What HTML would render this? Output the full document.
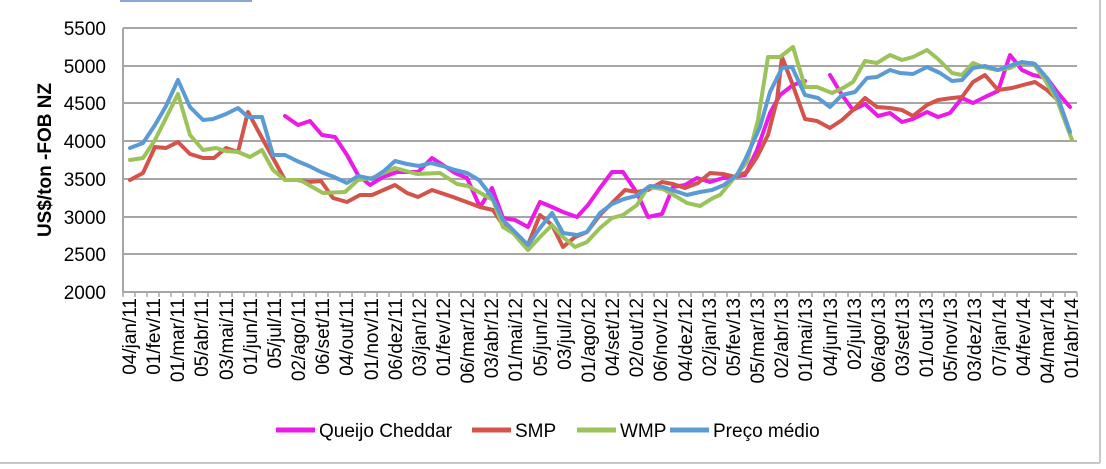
<!DOCTYPE html>
<html><head><meta charset="utf-8"><style>
html,body{margin:0;padding:0;background:#fff;}
svg{display:block;font-family:"Liberation Sans",sans-serif;}
</style></head><body>
<svg width="1106" height="469" viewBox="0 0 1106 469" xmlns="http://www.w3.org/2000/svg">
<rect x="0" y="0" width="1106" height="469" fill="#fff"/>
<line x1="1100" y1="0" x2="1100" y2="463" stroke="#c8c8c8" stroke-width="2"/>
<line x1="0" y1="463" x2="1100" y2="463" stroke="#c8c8c8" stroke-width="2"/>
<line x1="120" y1="1" x2="252" y2="1" stroke="#8aa6d8" stroke-width="2"/>
<g stroke="#a6a6a6" stroke-width="2">
<line x1="123" y1="28" x2="1077" y2="28"/>
<line x1="123" y1="66" x2="1077" y2="66"/>
<line x1="123" y1="103" x2="1077" y2="103"/>
<line x1="123" y1="141" x2="1077" y2="141"/>
<line x1="123" y1="179" x2="1077" y2="179"/>
<line x1="123" y1="217" x2="1077" y2="217"/>
<line x1="123" y1="254" x2="1077" y2="254"/>
<line x1="123" y1="292" x2="1077" y2="292"/>
<line x1="123" y1="28" x2="123" y2="292"/>
</g>
<g stroke="#a6a6a6" stroke-width="1.5">
<path d="M123 292v5M135 292v5M147 292v5M159 292v5M171 292v5M183 292v5M195 292v5M208 292v5M220 292v5M232 292v5M244 292v5M256 292v5M268 292v5M280 292v5M292 292v5M304 292v5M316 292v5M328 292v5M340 292v5M352 292v5M365 292v5M377 292v5M389 292v5M401 292v5M413 292v5M425 292v5M437 292v5M449 292v5M461 292v5M473 292v5M485 292v5M497 292v5M510 292v5M522 292v5M534 292v5M546 292v5M558 292v5M570 292v5M582 292v5M594 292v5M606 292v5M618 292v5M630 292v5M642 292v5M654 292v5M667 292v5M679 292v5M691 292v5M703 292v5M715 292v5M727 292v5M739 292v5M751 292v5M763 292v5M775 292v5M787 292v5M799 292v5M812 292v5M824 292v5M836 292v5M848 292v5M860 292v5M872 292v5M884 292v5M896 292v5M908 292v5M920 292v5M932 292v5M944 292v5M956 292v5M969 292v5M981 292v5M993 292v5M1005 292v5M1017 292v5M1029 292v5M1041 292v5M1053 292v5M1065 292v5M1077 292v5"/>
</g>
<g font-size="19" fill="#000" text-anchor="end">
<text x="106" y="35">5500</text><text x="106" y="73">5000</text><text x="106" y="110">4500</text>
<text x="106" y="148">4000</text><text x="106" y="186">3500</text><text x="106" y="224">3000</text>
<text x="106" y="261">2500</text><text x="106" y="299">2000</text>
</g>
<text transform="translate(51,160) rotate(-90)" font-size="19" font-weight="bold" text-anchor="middle">US$/ton -FOB NZ</text>
<g fill="none" stroke-width="4" stroke-linejoin="round" stroke-linecap="round">
<polyline stroke="#ea1be6" points="285,116 298,125 310,121 322,135 335,137 347,155 358,175 370,185 383,177 397,172 418,172 432,158 443,165 455,173 467,178 480,207 492,188 503,218 515,220 528,227 540,202 552,207 563,212 577,217 588,205 600,188 612,172 623,172 637,193 648,217 662,214 673,187 685,185 697,178 710,182 723,178 733,177 745,175 757,150 770,113 780,95 793,85 805,81"/>
<polyline stroke="#ea1be6" points="830,75 842,95 853,110 865,104 878,116 890,113 902,122 913,119 927,112 938,117 950,113 962,98 973,103 985,97 998,91 1010,55 1022,70 1033,75 1047,78 1058,93 1070,107"/>
<polyline stroke="#d4534b" points="130,180 143,173 155,147 166,148 178,142 190,154 203,158 214,158 226,148 238,152 248,112 262,138 273,158 285,180 297,180 309,182 321,181 333,198 347,202 360,195 372,195 395,185 407,193 418,197 432,190 453,197 480,207 493,210 503,225 513,232 527,247 540,215 552,225 563,247 575,237 587,232 600,215 612,203 625,190 637,192 648,190 662,182 673,184 685,188 698,183 710,173 723,174 735,177 747,172 757,157 768,135 777,100 782,57 792,83 805,119 817,121 830,128 842,120 853,110 865,98 877,107 890,108 902,110 913,116 927,105 938,100 952,98 962,97 973,82 985,75 998,90 1012,88 1023,85 1035,82 1047,90 1060,102"/>
<polyline stroke="#9bc35a" points="130,160 143,158 155,140 166,118 178,94 190,135 203,150 216,148 226,151 238,152 250,157 262,150 273,170 285,180 300,180 323,193 345,192 358,180 372,178 395,168 417,174 440,173 457,184 468,186 493,200 503,227 513,233 528,250 540,237 552,225 563,237 575,247 587,242 600,228 612,218 623,215 637,205 648,187 663,189 677,197 687,203 700,206 713,198 720,195 730,183 747,162 758,120 768,57 780,57 793,47 805,87 817,87 832,93 843,88 853,82 865,61 877,63 890,55 902,60 913,57 927,50 938,59 952,73 962,75 973,63 983,67 997,70 1010,68 1020,63 1033,63 1045,80 1057,100 1072,140"/>
<polyline stroke="#5b9bd5" points="130,148 143,143 155,125 166,106 178,80 190,107 203,120 213,119 226,114 238,108 248,117 262,117 273,155 285,155 297,161 309,166 321,172 334,177 347,183 358,176 372,179 384,171 395,161 407,164 419,166 431,163 443,166 455,170 467,173 479,180 492,197 503,220 515,232 528,245 540,228 552,213 563,233 577,235 587,232 600,213 612,204 624,199 636,196 650,186 663,187 675,191 687,195 700,192 712,190 724,185 737,175 745,160 760,127 770,92 782,68 792,67 805,95 818,98 830,107 842,95 855,92 867,78 877,77 890,70 900,73 913,74 927,67 940,73 952,81 962,80 973,68 985,66 998,70 1012,65 1022,62 1035,64 1047,78 1058,98 1070,132"/>
</g>
<g stroke-width="5">
<line x1="276" y1="430" x2="315" y2="430" stroke="#ea1be6"/>
<line x1="472" y1="430" x2="511" y2="430" stroke="#d4534b"/>
<line x1="577" y1="430" x2="616" y2="430" stroke="#9bc35a"/>
<line x1="670" y1="430" x2="709" y2="430" stroke="#5b9bd5"/>
</g>
<g font-size="19" fill="#000">
<text x="319" y="437">Queijo Cheddar</text>
<text x="515" y="437">SMP</text>
<text x="620" y="437">WMP</text>
<text x="713" y="437">Preço médio</text>
</g>
<g font-size="19" fill="#000" text-anchor="end">
<text transform="translate(136,298) rotate(-90)">04/jan/11</text>
<text transform="translate(160,298) rotate(-90)">01/fev/11</text>
<text transform="translate(184,298) rotate(-90)">01/mar/11</text>
<text transform="translate(208,298) rotate(-90)">05/abr/11</text>
<text transform="translate(233,298) rotate(-90)">03/mai/11</text>
<text transform="translate(257,298) rotate(-90)">01/jun/11</text>
<text transform="translate(281,298) rotate(-90)">05/jul/11</text>
<text transform="translate(305,298) rotate(-90)">02/ago/11</text>
<text transform="translate(329,298) rotate(-90)">06/set/11</text>
<text transform="translate(353,298) rotate(-90)">04/out/11</text>
<text transform="translate(378,298) rotate(-90)">01/nov/11</text>
<text transform="translate(402,298) rotate(-90)">06/dez/11</text>
<text transform="translate(426,298) rotate(-90)">03/jan/12</text>
<text transform="translate(450,298) rotate(-90)">01/fev/12</text>
<text transform="translate(474,298) rotate(-90)">06/mar/12</text>
<text transform="translate(498,298) rotate(-90)">03/abr/12</text>
<text transform="translate(522,298) rotate(-90)">01/mai/12</text>
<text transform="translate(547,298) rotate(-90)">05/jun/12</text>
<text transform="translate(571,298) rotate(-90)">03/jul/12</text>
<text transform="translate(595,298) rotate(-90)">01/ago/12</text>
<text transform="translate(619,298) rotate(-90)">04/set/12</text>
<text transform="translate(643,298) rotate(-90)">02/out/12</text>
<text transform="translate(667,298) rotate(-90)">06/nov/12</text>
<text transform="translate(692,298) rotate(-90)">04/dez/12</text>
<text transform="translate(716,298) rotate(-90)">02/jan/13</text>
<text transform="translate(740,298) rotate(-90)">05/fev/13</text>
<text transform="translate(764,298) rotate(-90)">05/mar/13</text>
<text transform="translate(788,298) rotate(-90)">02/abr/13</text>
<text transform="translate(812,298) rotate(-90)">01/mai/13</text>
<text transform="translate(837,298) rotate(-90)">04/jun/13</text>
<text transform="translate(861,298) rotate(-90)">02/jul/13</text>
<text transform="translate(885,298) rotate(-90)">06/ago/13</text>
<text transform="translate(909,298) rotate(-90)">03/set/13</text>
<text transform="translate(933,298) rotate(-90)">01/out/13</text>
<text transform="translate(957,298) rotate(-90)">05/nov/13</text>
<text transform="translate(981,298) rotate(-90)">03/dez/13</text>
<text transform="translate(1006,298) rotate(-90)">07/jan/14</text>
<text transform="translate(1030,298) rotate(-90)">04/fev/14</text>
<text transform="translate(1054,298) rotate(-90)">04/mar/14</text>
<text transform="translate(1078,298) rotate(-90)">01/abr/14</text>
</g>
</svg>
</body></html>
